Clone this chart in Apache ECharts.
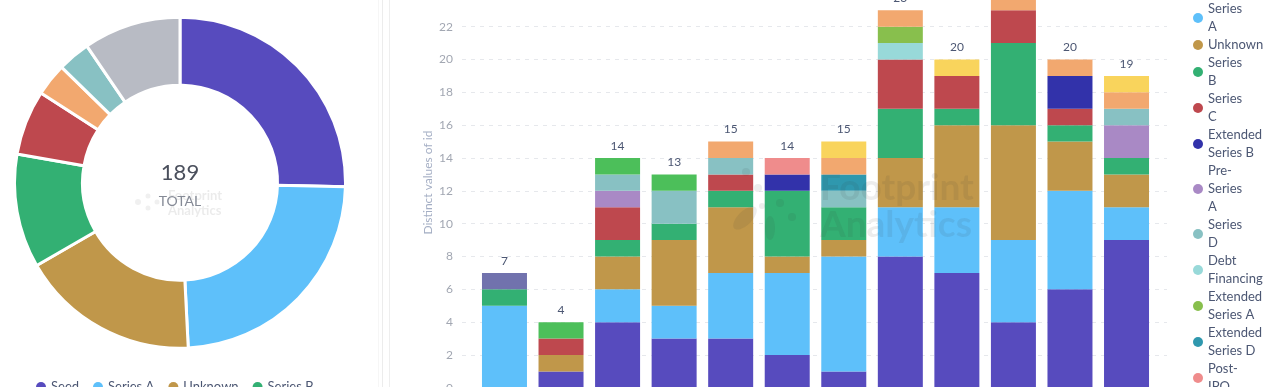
<!DOCTYPE html>
<html>
<head>
<meta charset="utf-8">
<script src="https://cdn.jsdelivr.net/npm/echarts@6/dist/echarts.min.js"></script>
<style>
html,body{margin:0;padding:0;background:#fff;}
#c{width:1268px;height:387px;}
</style>
</head>
<body>
<div id="c"></div>
<script>
// ---- data ----
const categories = ['2021-11','2021-12','2022-01','2022-02','2022-03','2022-04','2022-05','2022-06','2022-07','2022-08','2022-09','2022-10'];
const seriesNames = ['Seed','Series A','Unknown','Series B','Series C','Extended Series B','Pre-Series A','Series D','Debt Financing','Extended Series A','Extended Series D','Post-IPO','Strategic','Angel','Private Equity','Pre-Seed'];
const seed       = [0,1,4,3,3,2,1,8,7,4,6,9];
const seriesA    = [5,0,2,2,4,5,7,3,4,5,6,2];
const unknown    = [0,1,2,4,4,1,1,3,5,7,3,2];
const seriesB    = [1,0,1,1,1,4,2,3,1,5,1,1];
const seriesC    = [0,1,2,0,1,0,0,3,2,2,1,0];
const extB       = [0,0,0,0,0,1,0,0,0,0,2,0];
const preA       = [0,0,1,0,0,0,0,0,0,0,0,2];
const seriesD    = [0,0,1,2,1,0,1,0,0,0,0,1];
const debt       = [0,0,0,0,0,0,0,1,0,0,0,0];
const extA       = [0,0,0,0,0,0,0,1,0,0,0,0];
const extD       = [0,0,0,0,0,0,1,0,0,0,0,0];
const postIPO    = [0,0,0,0,0,1,0,0,0,0,0,0];
const strategic  = [0,0,0,0,1,0,1,1,0,1,1,1];
const angel      = [0,0,0,0,0,0,1,0,1,0,0,1];
const privateEq  = [0,1,1,1,0,0,0,0,0,0,0,0];
const preSeed    = [1,0,0,0,0,0,0,0,0,0,0,0];
const yTicks = [0,2,4,6,8,10,12,14,16,18,20,22,24];

const donutNames  = ['Seed','Series A','Unknown','Series B','Series C','Strategic','Series D','Other'];
const donutValues = [48,45,33,21,12,6,6,18];
const donutTotal  = 189;

// ---- styling ----
const colors = {
  'Seed':'#574bbe','Series A':'#5ec0fa','Unknown':'#c0974a','Series B':'#33b073','Series C':'#be484e',
  'Extended Series B':'#3232aa','Pre-Series A':'#a989c5','Series D':'#88c1c3','Debt Financing':'#98d9d9',
  'Extended Series A':'#88bf4d','Extended Series D':'#2f98ae','Post-IPO':'#ef8c8c','Strategic':'#f2a86f',
  'Angel':'#f9d45c','Private Equity':'#4cbf5a','Pre-Seed':'#7172ad','Other':'#b8bbc4'
};
const wrapped = {
  'Seed':'Seed','Series A':'Series\nA','Unknown':'Unknown','Series B':'Series\nB','Series C':'Series\nC',
  'Extended Series B':'Extended\nSeries B','Pre-Series A':'Pre-\nSeries\nA','Series D':'Series\nD',
  'Debt Financing':'Debt\nFinancing','Extended Series A':'Extended\nSeries A','Extended Series D':'Extended\nSeries D',
  'Post-IPO':'Post-\nIPO','Strategic':'Strategic','Angel':'Angel','Private Equity':'Private\nEquity','Pre-Seed':'Pre-\nSeed'
};
const seriesData = [seed,seriesA,unknown,seriesB,seriesC,extB,preA,seriesD,debt,extA,extD,postIPO,strategic,angel,privateEq,preSeed];
const totals = categories.map((c,i)=>seriesData.reduce((s,arr)=>s+arr[i],0));

const FONT = 'Lato, "Noto Sans", sans-serif';
const chart = echarts.init(document.getElementById('c'), null, {renderer:'canvas'});

const barSeries = seriesNames.map((n,k)=>({
  name:n, type:'bar', stack:'total', xAxisIndex:1, yAxisIndex:1, barWidth:45,
  itemStyle:{color:colors[n]}, data:seriesData[k], emphasis:{disabled:true}
}));
barSeries.push({
  name:'__total', type:'bar', stack:'total', xAxisIndex:1, yAxisIndex:1, barWidth:45,
  data:categories.map(()=>0), itemStyle:{color:'transparent'},
  label:{show:true, position:'top', distance:6, color:'#4c5773', fontSize:12, fontFamily:FONT,
    formatter:(p)=>String(totals[p.dataIndex])}
});

const wm = 'rgba(60,60,60,0.09)';
const graphics = [
  {type:'line', shape:{x1:378.5,y1:0,x2:378.5,y2:387}, style:{stroke:'#f6f6f6',lineWidth:1}, silent:true},
  {type:'line', shape:{x1:382.5,y1:0,x2:382.5,y2:387}, style:{stroke:'#ececec',lineWidth:1}, silent:true},
  {type:'line', shape:{x1:389.5,y1:0,x2:389.5,y2:387}, style:{stroke:'#eeeeee',lineWidth:1}, silent:true},
  {type:'text', style:{x:180,y:172.5,text:String(donutTotal),fill:'#4a4f5c',font:'22px '+FONT,textAlign:'center',textVerticalAlign:'middle'}, z:10},
  {type:'text', style:{x:168,y:196,text:'Footprint',fill:'rgba(60,60,60,0.10)',font:'bold 13px '+FONT,textAlign:'left',textVerticalAlign:'middle'}, z:9},
  {type:'text', style:{x:168,y:211,text:'Analytics',fill:'rgba(60,60,60,0.10)',font:'bold 13px '+FONT,textAlign:'left',textVerticalAlign:'middle'}, z:9},
  {type:'text', style:{x:180,y:201,text:'TOTAL',fill:'#858a96',font:'14px '+FONT,textAlign:'center',textVerticalAlign:'middle'}, z:10},
  {type:'text', style:{x:820,y:188,text:'Footprint',fill:wm,font:'bold 37px '+FONT,textAlign:'left',textVerticalAlign:'middle'}, z:20, silent:true},
  {type:'text', style:{x:820,y:225,text:'Analytics',fill:wm,font:'bold 37px '+FONT,textAlign:'left',textVerticalAlign:'middle'}, z:20, silent:true},
  {type:'ellipse', shape:{cx:745,cy:218,rx:7,ry:15}, rotation:-0.8, originX:745, originY:218, style:{fill:wm}, z:20, silent:true},
  {type:'ellipse', shape:{cx:770,cy:228,rx:5,ry:12}, style:{fill:wm}, z:20, silent:true},
  {type:'circle', shape:{cx:746,cy:172,r:4}, style:{fill:wm}, z:20, silent:true},
  {type:'circle', shape:{cx:758,cy:188,r:4}, style:{fill:wm}, z:20, silent:true},
  {type:'circle', shape:{cx:780,cy:203,r:4}, style:{fill:wm}, z:20, silent:true},
  {type:'circle', shape:{cx:792,cy:217,r:4}, style:{fill:wm}, z:20, silent:true},
  {type:'circle', shape:{cx:762,cy:206,r:3}, style:{fill:wm}, z:20, silent:true},
  {type:'circle', shape:{cx:138,cy:202,r:3}, style:{fill:'rgba(60,60,60,0.08)'}, z:9},
  {type:'circle', shape:{cx:148,cy:196,r:2.5}, style:{fill:'rgba(60,60,60,0.08)'}, z:9},
  {type:'circle', shape:{cx:148,cy:208,r:2.5}, style:{fill:'rgba(60,60,60,0.08)'}, z:9},
  {type:'circle', shape:{cx:157,cy:202,r:2.5}, style:{fill:'rgba(60,60,60,0.08)'}, z:9}
];

const option = {
  animation:false,
  textStyle:{fontFamily:FONT},
  graphic:graphics,
  legend:[
    {
      data:donutNames, orient:'horizontal', left:31, top:374, width:320, itemGap:14,
      itemWidth:10, itemHeight:10, icon:'circle', selectedMode:false,
      textStyle:{color:'#4c5773', fontSize:13, fontFamily:FONT, lineHeight:16}
    },
    {
      data:seriesNames, orient:'vertical', left:1188, top:-23, height:2000, itemGap:0,
      itemWidth:10, itemHeight:10, icon:'circle', selectedMode:false,
      formatter:(n)=>wrapped[n],
      textStyle:{color:'#4c5773', fontSize:13, fontFamily:FONT, lineHeight:18}
    }
  ],
  grid:[
    {left:462, right:101, top:-22.6, bottom:-0.8, containLabel:false, outerBoundsMode:'none'},
    {left:476.2, right:113.2, top:-22.6, bottom:-0.8, containLabel:false, outerBoundsMode:'none'}
  ],
  xAxis:[
    {gridIndex:0, type:'category', data:categories, show:false},
    {gridIndex:1, type:'category', data:categories, axisTick:{show:false},
     axisLine:{lineStyle:{color:'#e3e6ea'}}, axisLabel:{color:'#a7abb5', fontSize:12}}
  ],
  yAxis:[
    {gridIndex:0, type:'value', min:0, max:25, interval:2,
     axisLine:{show:false}, axisTick:{show:false},
     axisLabel:{color:'#a2a7b2', fontSize:12, margin:9, fontFamily:FONT,
       formatter:(v)=>yTicks.indexOf(v)>=0?String(v):''},
     splitLine:{show:true, lineStyle:{color:'#e6e8ec', type:[4,5], width:1}},
     name:'Distinct values of id', nameLocation:'middle', nameGap:28, nameMoveOverlap:false,
     nameTextStyle:{color:'#a4aec4', fontSize:12, fontFamily:FONT}},
    {gridIndex:1, type:'value', min:0, max:25, interval:2, show:false, splitLine:{show:false}}
  ],
  series:[
    {
      name:'donut', type:'pie', center:[180,182.7], radius:[97.5,165.5], startAngle:90, clockwise:true,
      avoidLabelOverlap:false, label:{show:false}, labelLine:{show:false}, emphasis:{disabled:true},
      itemStyle:{borderColor:'#fff', borderWidth:3},
      data:donutNames.map((n,i)=>({name:n, value:donutValues[i], itemStyle:{color:colors[n]}}))
    }
  ].concat(barSeries)
};
chart.setOption(option);
</script>
</body>
</html>
